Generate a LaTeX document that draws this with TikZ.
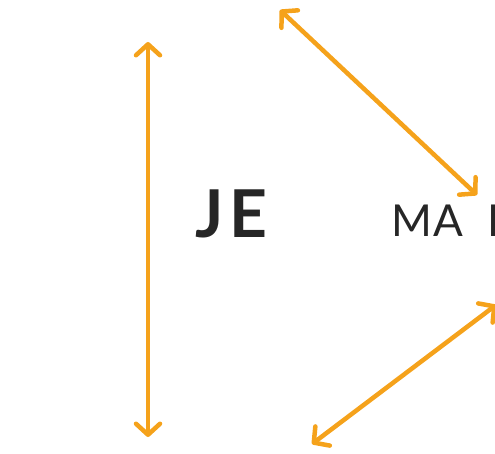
\documentclass[tikz,border=0pt]{standalone}
\usepackage{fontspec}
\setmainfont{Lato}
\usetikzlibrary{arrows.meta}
\definecolor{arrorange}{HTML}{F5A21B}
\definecolor{txtdark}{HTML}{262626}
\tikzset{
  dblarrow/.style={draw=arrorange, line width=4.5pt, line cap=round,
    {Straight Barb[round,length=11pt,width=24pt,line width=4.5pt]}-{Straight Barb[round,length=11pt,width=24pt,line width=4.5pt]}},
  bigtxt/.style={text=txtdark, inner sep=0pt, anchor=base west}
}
\begin{document}
\begin{tikzpicture}[x=1pt,y=-1pt]
\useasboundingbox (0,0) rectangle (495,454);
\coordinate (v1) at (148,42);
\coordinate (v2) at (148,437);
\coordinate (d1) at (280,10);
\coordinate (d2) at (477,195);
\coordinate (e1) at (496,305);
\coordinate (e2) at (312,444);
\draw[dblarrow] (v1) -- (v2);
\draw[dblarrow] (d1) -- (d2);
\draw[dblarrow] (e1) -- (e2);
\node[bigtxt, font=\fontsize{66}{66}\selectfont\bfseries] (je) at (195,238) {J\kern6pt E};
\node[bigtxt, font=\fontsize{44}{44}\selectfont] (ma) at (391,237) {M\kern1pt A};
\node[bigtxt, font=\fontsize{44}{44}\selectfont] (rr) at (487,237) {I};
\end{tikzpicture}
\end{document}
